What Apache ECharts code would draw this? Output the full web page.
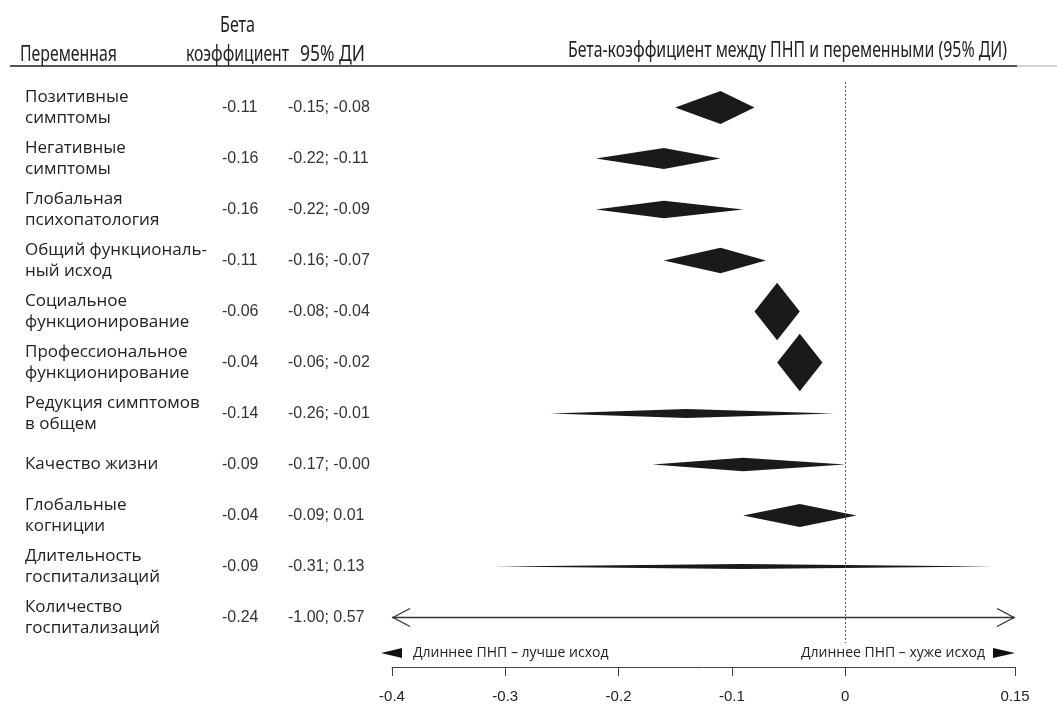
<!DOCTYPE html>
<html><head><meta charset="utf-8">
<script src="https://cdn.jsdelivr.net/npm/echarts@6/dist/echarts.min.js"></script>
<style>html,body{margin:0;padding:0;background:#fff}#c{width:1057px;height:704px}</style>
</head><body><div id="c"></div>
<script>
const names = ['Позитивные\nсимптомы','Негативные\nсимптомы','Глобальная\nпсихопатология','Общий функциональ-\nный исход','Социальное\nфункционирование','Профессиональное\nфункционирование','Редукция симптомов\nв общем','Качество жизни','Глобальные\nкогниции','Длительность\nгоспитализаций','Количество\nгоспитализаций'];
const beta   = [-0.11,-0.16,-0.16,-0.11,-0.06,-0.04,-0.14,-0.09,-0.04,-0.09,-0.24];
const ciLow  = [-0.15,-0.22,-0.22,-0.16,-0.08,-0.06,-0.26,-0.17,-0.09,-0.31,-1.00];
const ciHigh = [-0.08,-0.11,-0.09,-0.07,-0.04,-0.02,-0.01,-0.00, 0.01, 0.13, 0.57];
const xTicks = [-0.4,-0.3,-0.2,-0.1,0,0.15];
const xMin = -0.4, xMax = 0.15;

const fmt = v => ((v < 0 || Object.is(v, -0)) ? '-' : '') + Math.abs(v).toFixed(2);
const betaText = beta.map(fmt);
const ciText = ciLow.map((l, i) => fmt(l) + '; ' + fmt(ciHigh[i]));
const rows = names.map((n, i) => i);

const chart = echarts.init(document.getElementById('c'));
const cond = '"Noto Sans", sans-serif';
const mctx = document.createElement('canvas').getContext('2d');
function condText(text, x, y, size, width) {
  mctx.font = size + 'px ' + cond;
  const w = mctx.measureText(text).width;
  const s = width / w;
  return {type:'text', x:x, y:y, scaleX:s, originX:0, style:{text:text, fontFamily:cond, fontSize:size, fill:'#222', align:'left', verticalAlign:'middle'}};
}
const GL = 392, GT = 82, GH = 563;
const numFont = '"Liberation Sans", Arial, sans-serif';
function yAx(data, margin, font, size, color, extra) {
  return Object.assign({type:'category', position:'left', offset:0, data:data, inverse:true,
    axisLine:{show:false}, axisTick:{show:false}, splitLine:{show:false},
    axisLabel:Object.assign({align:'left', margin:margin, fontFamily:font, fontSize:size, color:color, interval:0}, extra||{})});
}
const option = {
  animation:false,
  grid:{left:GL, right:42, top:GT, height:GH},
  xAxis:{type:'value', min:xMin, max:xMax, offset:24,
    axisLine:{show:true, lineStyle:{color:'#444', width:1}},
    axisTick:{show:true, length:9, customValues:xTicks, lineStyle:{color:'#444'}},
    axisLabel:{customValues:xTicks, margin:22, fontFamily:numFont, fontSize:15, color:'#222', formatter:v=>String(v)},
    splitLine:{show:false}},
  yAxis:[
    yAx(names, GL-25, '"Open Sans", sans-serif', 17, '#222', {lineHeight:21, padding:[5,0,0,0]}),
    yAx(betaText, GL-222, numFont, 16, '#333'),
    yAx(ciText, GL-288, numFont, 16, '#333')
  ],
  series:[{
    type:'custom', clip:false, xAxisIndex:0, yAxisIndex:0,
    data: beta.map((b, i) => [ciLow[i], b, ciHigh[i], rows[i]]),
    encode:{x:1, y:3},
    renderItem:function(params, api){
      const lo = api.value(0), b = api.value(1), hi = api.value(2), row = api.value(3);
      const clipL = lo < xMin, clipR = hi > xMax;
      const pL = api.coord([Math.max(lo, xMin), row]);
      const pR = api.coord([Math.min(hi, xMax), row]);
      const pM = api.coord([b, row]);
      const y = pM[1];
      if (clipL || clipR) {
        const ch = [{type:'line', shape:{x1:pL[0], y1:y, x2:pR[0], y2:y}, style:{stroke:'#333', lineWidth:1.3}}];
        if (clipL) ch.push({type:'polyline', shape:{points:[[pL[0]+18, y-9],[pL[0]+1, y],[pL[0]+18, y+9]]}, style:{stroke:'#333', lineWidth:1.3, fill:null}});
        if (clipR) ch.push({type:'polyline', shape:{points:[[pR[0]-18, y-9],[pR[0]-1, y],[pR[0]-18, y+9]]}, style:{stroke:'#333', lineWidth:1.3, fill:null}});
        return {type:'group', children:ch};
      }
      const h = 1300 / (pR[0] - pL[0]);
      return {type:'polygon', shape:{points:[[pL[0], y],[pM[0], y-h],[pR[0], y],[pM[0], y+h]]}, style:{fill:'#1a1a1a'}};
    }
  },{
    type:'line', xAxisIndex:0, yAxisIndex:0, data:[], silent:true,
    markLine:{silent:true, symbol:'none', label:{show:false},
      lineStyle:{type:[2,2], color:'#555', width:1},
      data:[{xAxis:0}]}
  }],
  graphic:[
    {type:'line', shape:{x1:10, y1:66, x2:1017, y2:66}, style:{stroke:'#555', lineWidth:2}},
    {type:'line', shape:{x1:1017, y1:66, x2:1057, y2:66}, style:{stroke:'#aaa', lineWidth:1}},
    condText('Переменная', 20, 55, 21, 97),
    condText('Бета', 220, 26, 21, 35),
    condText('коэффициент', 186, 55, 21, 103),
    condText('95% ДИ', 300, 55, 21, 65),
    condText('Бета-коэффициент между ПНП и переменными (95% ДИ)', 568, 51, 22, 439),
    {type:'polygon', shape:{points:[[381,653],[402,648],[402,658]]}, style:{fill:'#111'}},
    {type:'text', x:413, y:653, style:{text:'Длиннее ПНП – лучше исход', fontFamily:'"Open Sans", sans-serif', fontSize:14, fill:'#222', align:'left', verticalAlign:'middle'}},
    {type:'polygon', shape:{points:[[1015,653],[993,648],[993,658]]}, style:{fill:'#111'}},
    {type:'text', x:985, y:653, style:{text:'Длиннее ПНП – хуже исход', fontFamily:'"Open Sans", sans-serif', fontSize:14, fill:'#222', align:'right', verticalAlign:'middle'}}
  ]
};
chart.setOption(option);
</script></body></html>
